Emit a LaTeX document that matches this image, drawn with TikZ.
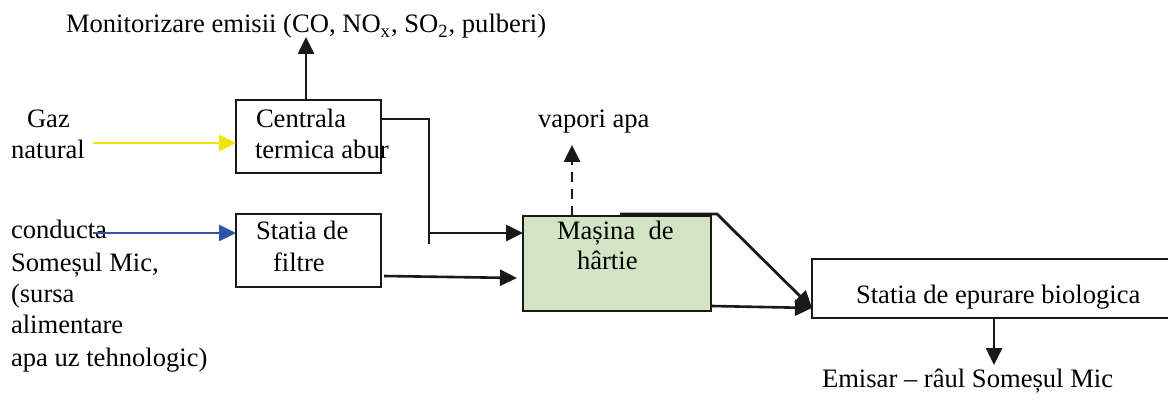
\documentclass[tikz,border=0pt]{standalone}
\usepackage{fontspec}
\setmainfont{Liberation Serif}
\usetikzlibrary{arrows.meta}
\definecolor{gazyellow}{RGB}{240,228,0}
\definecolor{waterblue}{RGB}{46,84,166}
\definecolor{boxgreen}{RGB}{209,228,196}
\begin{document}
\begin{tikzpicture}[x=0.5pt,y=-0.5pt,
  every node/.style={font=\fontsize{13.3pt}{16pt}\selectfont, inner sep=0pt, outer sep=0pt},
  txt/.style={anchor=base west},
  procbox/.style={draw=black!90, line width=1pt, rectangle},
  flow/.style={line width=1.3pt, draw=black!90, -{Triangle[length=8.5pt,width=8pt]}},
  plain/.style={line width=1.1pt, draw=black!90},
  vapflow/.style={flow, dash pattern=on 5pt off 3.5pt}]
\useasboundingbox (0,0) rectangle (1168,401);

% boxes
\node[procbox, minimum width=72.5pt, minimum height=36.25pt] (cent) at (308.5,136.3) {};
\node[procbox, minimum width=72.5pt, minimum height=36.5pt] (filt) at (308.5,250.5) {};
\node[procbox, fill=boxgreen, minimum width=94pt, minimum height=47.5pt] (mas) at (617,263.5) {};
\node[procbox, minimum width=182pt, minimum height=29.5pt] (epur) at (994,288.5) {};

% texts
\node[txt] (title) at (66,33) {Monitorizare emisii (CO, NO\textsubscript{x}, SO\textsubscript{2}, pulberi)};
\node[txt] (gaz1) at (27,127) {Gaz};
\node[txt] (gaz2) at (11,159) {natural};
\node[txt] (cent1) at (256,127) {Centrala};
\node[txt] (cent2) at (255,159) {termica abur};
\node[txt] (vap) at (538,127) {vapori apa};
\node[txt] (cond1) at (11,238) {conducta};
\node[txt] (cond2) at (11,271) {Someșul Mic,};
\node[txt] (cond3) at (11,302) {(sursa};
\node[txt] (cond4) at (11,333) {alimentare};
\node[txt] (cond5) at (11,366) {apa uz tehnologic)};
\node[txt] (filt1) at (256,239) {Statia de};
\node[txt] (filt2) at (273,271) {filtre};
\node[txt] (mas1) at (557,239) {Mașina\ \ de};
\node[txt] (mas2) at (577,270) {hârtie};
\node[txt] (epur1) at (856,303) {Statia de epurare biologica};
\node[txt] (emis) at (822,387) {Emisar – râul Someșul Mic};

% coordinates
\coordinate (emi) at (306,37);
\coordinate (gazs) at (93,143);
\coordinate (conds) at (93,233);
\coordinate (j1) at (429,119);
\coordinate (j2) at (429,244);
\coordinate (j3) at (429,233);
\coordinate (f1) at (384,276);
\coordinate (f2) at (517,278);
\coordinate (vapt) at (572,145);
\coordinate (t1) at (620,214);
\coordinate (t2) at (717,214);
\coordinate (ein) at (812,308);
\coordinate (m1) at (712,306);
\coordinate (emt) at (994,365);

% connectors
\draw[flow] (cent.north -| emi) -- (emi);
\draw[flow, draw=gazyellow, -{Triangle[length=8.5pt,width=8pt,fill=gazyellow]}] (gazs) -- (gazs -| cent.west);
\draw[flow, draw=waterblue, -{Triangle[length=8.5pt,width=8pt,fill=waterblue]}] (conds) -- (conds -| filt.west);
\draw[plain] (j1 -| cent.east) -- (j1) -- (j2);
\draw[flow] (j3) -- (j3 -| mas.west);
\draw[flow] (f1) -- (f2);
\draw[vapflow] (mas.north -| vapt) -- (vapt);
\draw[flow, line width=1.4pt] (t1) -- (t2) -- (ein);
\draw[flow] (m1) -- (ein);
\draw[flow] (epur.south -| emt) -- (emt);
\end{tikzpicture}
\end{document}
